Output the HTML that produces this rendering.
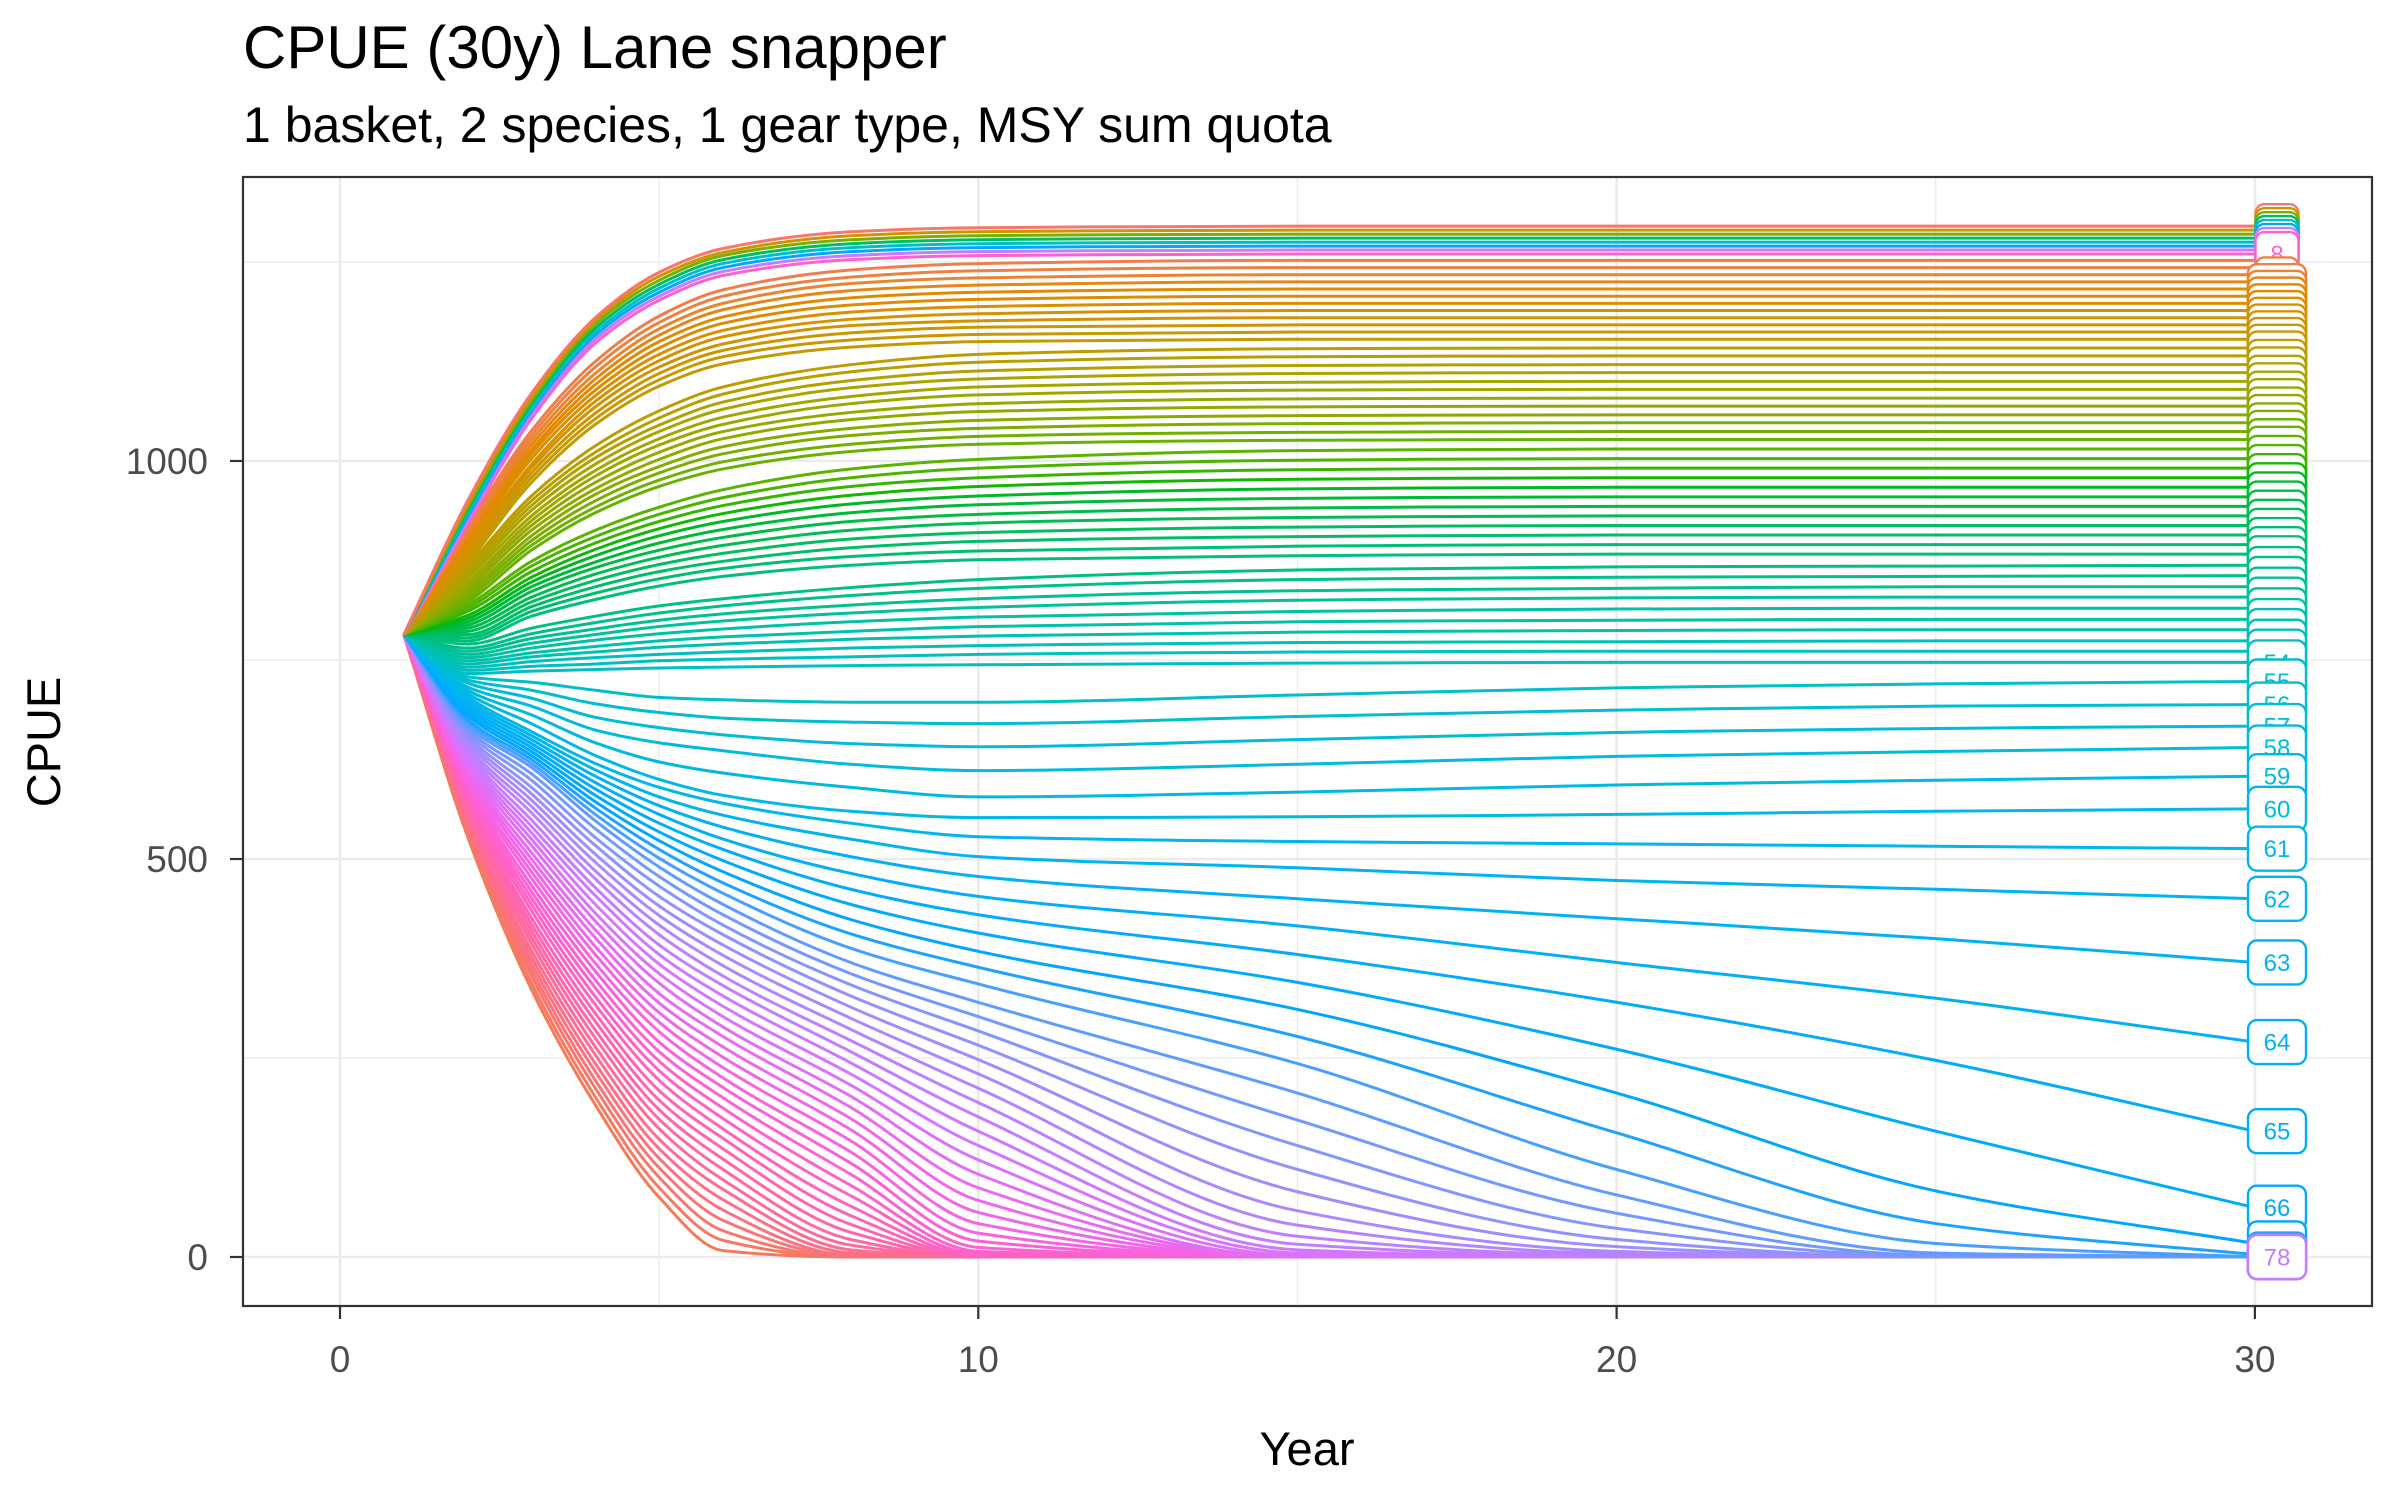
<!DOCTYPE html>
<html><head><meta charset="utf-8"><title>CPUE (30y) Lane snapper</title>
<style>
html,body{margin:0;padding:0;background:#fff;}
svg{display:block;font-family:"Liberation Sans",Arial,sans-serif;}
</style></head>
<body>
<svg id="chart" width="2400" height="1500" viewBox="0 0 2400 1500" xmlns="http://www.w3.org/2000/svg">
  <rect x="0" y="0" width="2400" height="1500" fill="#fff"/>
  <text x="243" y="68" font-size="60" fill="#000">CPUE (30y) Lane snapper</text>
  <text x="243" y="142" font-size="50" fill="#000">1 basket, 2 species, 1 gear type, MSY sum quota</text>
  <g id="grid"></g>
  <g id="series" clip-path="url(#clip)"></g>
  <g id="labels"></g>
  <rect x="243" y="177" width="2129" height="1129" fill="none" stroke="#333" stroke-width="2.2"/>
  <g id="axes"></g>
  <text x="1307" y="1465" font-size="47" text-anchor="middle" fill="#000">Year</text>
  <text x="0" y="0" font-size="47" text-anchor="middle" fill="#000" transform="translate(60,742) rotate(-90)">CPUE</text>
  <defs><clipPath id="clip"><rect x="243" y="177" width="2129" height="1129"/></clipPath></defs>
</svg>
<script>
const years = [1,2,3,4,5,6,8,10,15,20,25,30];
const xTicks = [0,10,20,30];
const xTickLabels = ["0","10","20","30"];
const yTicks = [0,500,1000];
const yTickLabels = ["0","500","1000"];
const xMinor = [5,15,25];
const yMinor = [250,750,1250];
const cpue = [
[782,950,1085,1180,1237,1267,1288,1293,1295,1295,1295,1295],
[782,946,1080,1176,1232,1262,1283,1288,1290,1290,1290,1290],
[782,942,1076,1172,1227,1258,1278,1283,1285,1285,1285,1285],
[782,938,1071,1167,1222,1253,1273,1278,1280,1280,1280,1280],
[782,934,1067,1162,1217,1248,1268,1273,1275,1275,1275,1275],
[782,930,1063,1158,1212,1243,1263,1268,1270,1270,1270,1270],
[782,925,1058,1153,1207,1238,1258,1263,1265,1265,1265,1265],
[782,921,1053,1148,1202,1233,1253,1258,1260,1260,1260,1260],
[782,917,1038,1125,1182,1215,1240,1248,1252,1252,1252,1252],
[782,913,1032,1118,1174,1207,1231,1239,1243,1243,1243,1243],
[782,909,1026,1110,1166,1198,1223,1230,1234,1234,1234,1234],
[782,905,1020,1103,1158,1190,1214,1221,1225,1225,1225,1225],
[782,901,1014,1096,1150,1181,1205,1212,1216,1216,1216,1216],
[782,897,1009,1089,1142,1173,1196,1203,1207,1207,1207,1207],
[782,893,1003,1082,1134,1164,1187,1194,1198,1198,1198,1198],
[782,888,996,1075,1126,1156,1178,1185,1189,1189,1189,1189],
[782,884,991,1068,1118,1147,1170,1176,1180,1180,1180,1180],
[782,880,985,1060,1110,1139,1161,1168,1171,1171,1171,1171],
[782,876,979,1053,1102,1131,1152,1159,1162,1162,1162,1162],
[782,872,973,1046,1094,1122,1143,1150,1153,1153,1153,1153],
[782,868,956,1019,1063,1093,1121,1134,1141,1142,1142,1142],
[782,864,950,1011,1054,1084,1112,1124,1131,1132,1132,1132],
[782,860,944,1004,1045,1074,1101,1113,1120,1121,1121,1121],
[782,856,938,996,1037,1065,1092,1103,1110,1111,1111,1111],
[782,852,931,988,1028,1055,1081,1093,1099,1100,1100,1100],
[782,847,925,981,1020,1046,1072,1083,1089,1090,1090,1090],
[782,843,919,973,1011,1037,1061,1072,1078,1079,1079,1079],
[782,839,913,965,1002,1028,1052,1062,1068,1069,1069,1069],
[782,835,906,958,993,1018,1041,1051,1057,1058,1058,1058],
[782,831,900,950,985,1009,1032,1041,1047,1048,1048,1048],
[782,827,894,942,976,999,1021,1031,1036,1037,1037,1037],
[782,823,888,935,968,990,1012,1021,1026,1027,1027,1027],
[782,819,874,913,942,964,990,1002,1013,1015,1015,1015],
[782,815,868,905,933,954,979,991,1001,1003,1003,1003],
[782,811,861,897,924,944,968,979,989,991,991,991],
[782,806,854,889,915,934,957,968,977,979,979,979],
[782,802,848,881,906,924,946,956,965,967,967,967],
[782,798,842,873,897,914,935,945,953,955,955,955],
[782,794,836,866,888,904,924,933,941,943,943,943],
[782,790,829,858,879,894,913,922,929,931,931,931],
[782,786,823,850,870,884,902,910,917,919,919,919],
[782,782,817,842,861,874,891,899,905,907,907,907],
[782,778,811,834,852,865,880,887,893,895,895,895],
[782,774,805,826,843,855,869,876,881,883,883,883],
[782,770,790,805,818,827,841,851,863,867,868,869],
[782,765,783,797,809,818,831,840,851,854,855,856],
[782,761,777,789,800,808,819,827,837,840,842,842],
[782,757,771,782,792,799,809,816,825,828,829,829],
[782,753,765,775,783,789,798,804,811,814,815,815],
[782,749,759,767,774,779,786,792,798,800,801,801],
[782,745,754,760,766,770,776,780,785,787,788,788],
[782,741,748,753,757,760,765,768,772,773,774,774],
[782,737,742,745,749,751,754,757,760,761,761,761],
[782,733,736,738,740,741,743,744,746,747,747,747],
[782,729,722,712,703,700,697,697,706,715,720,723],
[782,725,712,695,684,677,672,670,679,687,692,694],
[782,721,702,678,665,656,645,641,650,659,664,667],
[782,716,692,662,646,636,619,611,619,629,635,640],
[782,712,681,646,622,608,590,578,584,593,599,604],
[782,708,670,630,600,580,560,552,553,556,560,563],
[782,704,660,620,590,570,545,528,522,519,516,513],
[782,700,655,612,578,555,525,503,489,473,462,450],
[782,696,650,604,567,540,503,478,450,425,400,370],
[782,692,645,596,556,525,482,453,416,370,325,270],
[782,688,640,588,545,512,462,430,380,320,247,158],
[782,684,635,580,534,498,443,407,345,261,158,62],
[782,680,630,572,523,484,424,384,311,206,83,17],
[782,675,625,564,512,470,406,364,277,156,42,3],
[782,671,620,556,501,457,388,343,243,110,17,0],
[782,667,615,548,490,443,370,320,206,78,5,0],
[782,663,607,538,478,430,356,302,172,55,2,0],
[782,659,599,527,466,417,342,284,140,36,1,0],
[782,655,590,517,453,405,328,266,110,22,0,0],
[782,651,582,506,441,392,314,248,82,13,0,0],
[782,647,574,496,429,379,300,230,58,7,0,0],
[782,642,566,485,417,366,286,212,40,4,0,0],
[782,638,558,475,405,353,272,194,26,2,0,0],
[782,634,549,464,392,341,258,176,16,1,0,0],
[782,630,541,454,380,328,244,158,9,0,0,0],
[782,626,533,443,368,315,230,140,5,0,0,0],
[782,622,525,432,356,302,216,122,2,0,0,0],
[782,618,517,422,344,289,202,104,0,0,0,0],
[782,614,508,411,331,277,188,87,0,0,0,0],
[782,610,500,401,319,264,174,71,0,0,0,0],
[782,606,492,390,307,251,160,56,0,0,0,0],
[782,601,484,380,295,238,146,42,0,0,0,0],
[782,597,476,369,283,225,132,30,0,0,0,0],
[782,593,467,359,270,213,118,20,0,0,0,0],
[782,589,459,348,258,200,104,12,0,0,0,0],
[782,585,451,338,246,187,90,7,0,0,0,0],
[782,581,443,327,234,174,77,4,0,0,0,0],
[782,577,435,317,222,161,64,2,0,0,0,0],
[782,573,426,306,209,149,52,1,0,0,0,0],
[782,569,418,296,197,136,41,0,0,0,0,0],
[782,565,410,285,185,123,31,0,0,0,0,0],
[782,560,402,275,173,110,22,0,0,0,0,0],
[782,556,394,264,161,97,15,0,0,0,0,0],
[782,552,385,254,148,85,9,0,0,0,0,0],
[782,548,377,243,136,72,5,0,0,0,0,0],
[782,544,369,233,124,59,2,0,0,0,0,0],
[782,540,361,222,112,46,1,0,0,0,0,0],
[782,536,353,212,100,33,0,0,0,0,0,0],
[782,532,344,201,87,21,0,0,0,0,0,0],
[782,528,336,191,75,8,0,0,0,0,0,0]
];
const labelCount = 78;

const NS = "http://www.w3.org/2000/svg";
const PX0 = 243, PX1 = 2372, PY0 = 177, PY1 = 1306;
function xScale(v){ return 340 + 63.83 * v; }
function yScale(v){ return 1257 - 0.796 * v; }

function hcl(h, c, l){
  const hr = h * Math.PI / 180;
  const U = c * Math.cos(hr), V = c * Math.sin(hr);
  const Y = Math.pow((l + 16) / 116, 3);
  const un = 0.1978398, vn = 0.4683363;
  const u = U / (13 * l) + un, v = V / (13 * l) + vn;
  const X = 9 * Y * u / (4 * v);
  const Z = Y * (12 - 3 * u - 20 * v) / (4 * v);
  let r = 3.240479 * X - 1.537150 * Y - 0.498535 * Z;
  let g = -0.969256 * X + 1.875992 * Y + 0.041556 * Z;
  let b = 0.055648 * X - 0.204043 * Y + 1.057311 * Z;
  const gam = t => { t = t <= 0.0031308 ? 12.92 * t : 1.055 * Math.pow(t, 1 / 2.4) - 0.055; return Math.round(Math.max(0, Math.min(1, t)) * 255); };
  return "rgb(" + gam(r) + "," + gam(g) + "," + gam(b) + ")";
}
function seriesColor(i){
  if (i < 8) return hcl(15 + 360 * i / 8, 100, 65);
  return hcl(26 + 3.75 * (i - 8), 100, 65);
}

function monotonePath(xs, ys){
  const n = xs.length;
  const d = [], m = new Array(n);
  for (let k = 0; k < n - 1; k++) d.push((ys[k+1] - ys[k]) / (xs[k+1] - xs[k]));
  m[0] = d[0]; m[n-1] = d[n-2];
  for (let k = 1; k < n - 1; k++){
    if (d[k-1] * d[k] <= 0) m[k] = 0;
    else {
      const h0 = xs[k] - xs[k-1], h1 = xs[k+1] - xs[k];
      const w1 = 2 * h1 + h0, w2 = h1 + 2 * h0;
      m[k] = (w1 + w2) / (w1 / d[k-1] + w2 / d[k]);
    }
  }
  let p = "M" + xs[0].toFixed(2) + "," + ys[0].toFixed(2);
  for (let k = 0; k < n - 1; k++){
    const h = (xs[k+1] - xs[k]) / 3;
    p += " C" + (xs[k] + h).toFixed(2) + "," + (ys[k] + m[k] * h).toFixed(2) + " " +
         (xs[k+1] - h).toFixed(2) + "," + (ys[k+1] - m[k+1] * h).toFixed(2) + " " +
         xs[k+1].toFixed(2) + "," + ys[k+1].toFixed(2);
  }
  return p;
}

// grid
const grid = document.getElementById("grid");
function gline(x1, y1, x2, y2, w, name){
  const l = document.createElementNS(NS, "line");
  l.setAttribute("x1", x1); l.setAttribute("y1", y1); l.setAttribute("x2", x2); l.setAttribute("y2", y2);
  l.setAttribute("stroke", "#EBEBEB"); l.setAttribute("stroke-width", w);
  
  
  grid.appendChild(l);
}
xMinor.forEach(v => gline(xScale(v), PY0, xScale(v), PY1, 1.3, "x-minor-gridline"));
yMinor.forEach(v => gline(PX0, yScale(v), PX1, yScale(v), 1.3, "y-minor-gridline"));
xTicks.forEach(v => gline(xScale(v), PY0, xScale(v), PY1, 2.6, "x-major-gridline"));
yTicks.forEach(v => gline(PX0, yScale(v), PX1, yScale(v), 2.6, "y-major-gridline"));

// series
const sg = document.getElementById("series");
const xsPix = years.map(xScale);
for (let i = cpue.length - 1; i >= 0; i--){
  const path = document.createElementNS(NS, "path");
  path.setAttribute("d", monotonePath(xsPix, cpue[i].map(yScale)));
  path.setAttribute("fill", "none");
  path.setAttribute("stroke", seriesColor(i));
  path.setAttribute("stroke-width", "3");
  path.setAttribute("stroke-linejoin", "round");
  
  
  sg.appendChild(path);
}

// end labels
const lg = document.getElementById("labels");
for (let i = 0; i < Math.min(labelCount, cpue.length); i++){
  const last = cpue[i][cpue[i].length - 1];
  let cy = yScale(last);
  if (i >= 8 && i < 54) cy += 19 * (53 - i) / 45;
  const txt = String(i + 1);
  const w = txt.length === 1 ? 43 : 58, h = 44, cx = 2277;
  const col = seriesColor(i);
  const g = document.createElementNS(NS, "g");
  
  
  const r = document.createElementNS(NS, "rect");
  r.setAttribute("x", cx - w / 2); r.setAttribute("y", cy - h / 2);
  r.setAttribute("width", w); r.setAttribute("height", h);
  r.setAttribute("rx", 9); r.setAttribute("ry", 9);
  r.setAttribute("fill", "#fff"); r.setAttribute("stroke", col); r.setAttribute("stroke-width", 2.4);
  
  
  g.appendChild(r);
  const t = document.createElementNS(NS, "text");
  t.setAttribute("x", cx); t.setAttribute("y", cy + 8.5);
  t.setAttribute("text-anchor", "middle"); t.setAttribute("font-size", 24);
  t.setAttribute("fill", col);
  t.textContent = txt;
  
  
  g.appendChild(t);
  lg.appendChild(g);
}

// axes
const ag = document.getElementById("axes");
xTicks.forEach((v, k) => {
  const l = document.createElementNS(NS, "line");
  l.setAttribute("x1", xScale(v)); l.setAttribute("x2", xScale(v));
  l.setAttribute("y1", PY1); l.setAttribute("y2", PY1 + 13);
  l.setAttribute("stroke", "#333"); l.setAttribute("stroke-width", 2.2);
  
  
  ag.appendChild(l);
  const t = document.createElementNS(NS, "text");
  t.setAttribute("x", xScale(v)); t.setAttribute("y", 1372);
  t.setAttribute("text-anchor", "middle"); t.setAttribute("font-size", 37); t.setAttribute("fill", "#4D4D4D");
  t.textContent = xTickLabels[k];
  
  
  ag.appendChild(t);
});
yTicks.forEach((v, k) => {
  const l = document.createElementNS(NS, "line");
  l.setAttribute("x1", PX0 - 13); l.setAttribute("x2", PX0);
  l.setAttribute("y1", yScale(v)); l.setAttribute("y2", yScale(v));
  l.setAttribute("stroke", "#333"); l.setAttribute("stroke-width", 2.2);
  
  
  ag.appendChild(l);
  const t = document.createElementNS(NS, "text");
  t.setAttribute("x", 208); t.setAttribute("y", yScale(v) + 13);
  t.setAttribute("text-anchor", "end"); t.setAttribute("font-size", 37); t.setAttribute("fill", "#4D4D4D");
  t.textContent = yTickLabels[k];
  
  
  ag.appendChild(t);
});
</script>
</body></html>
